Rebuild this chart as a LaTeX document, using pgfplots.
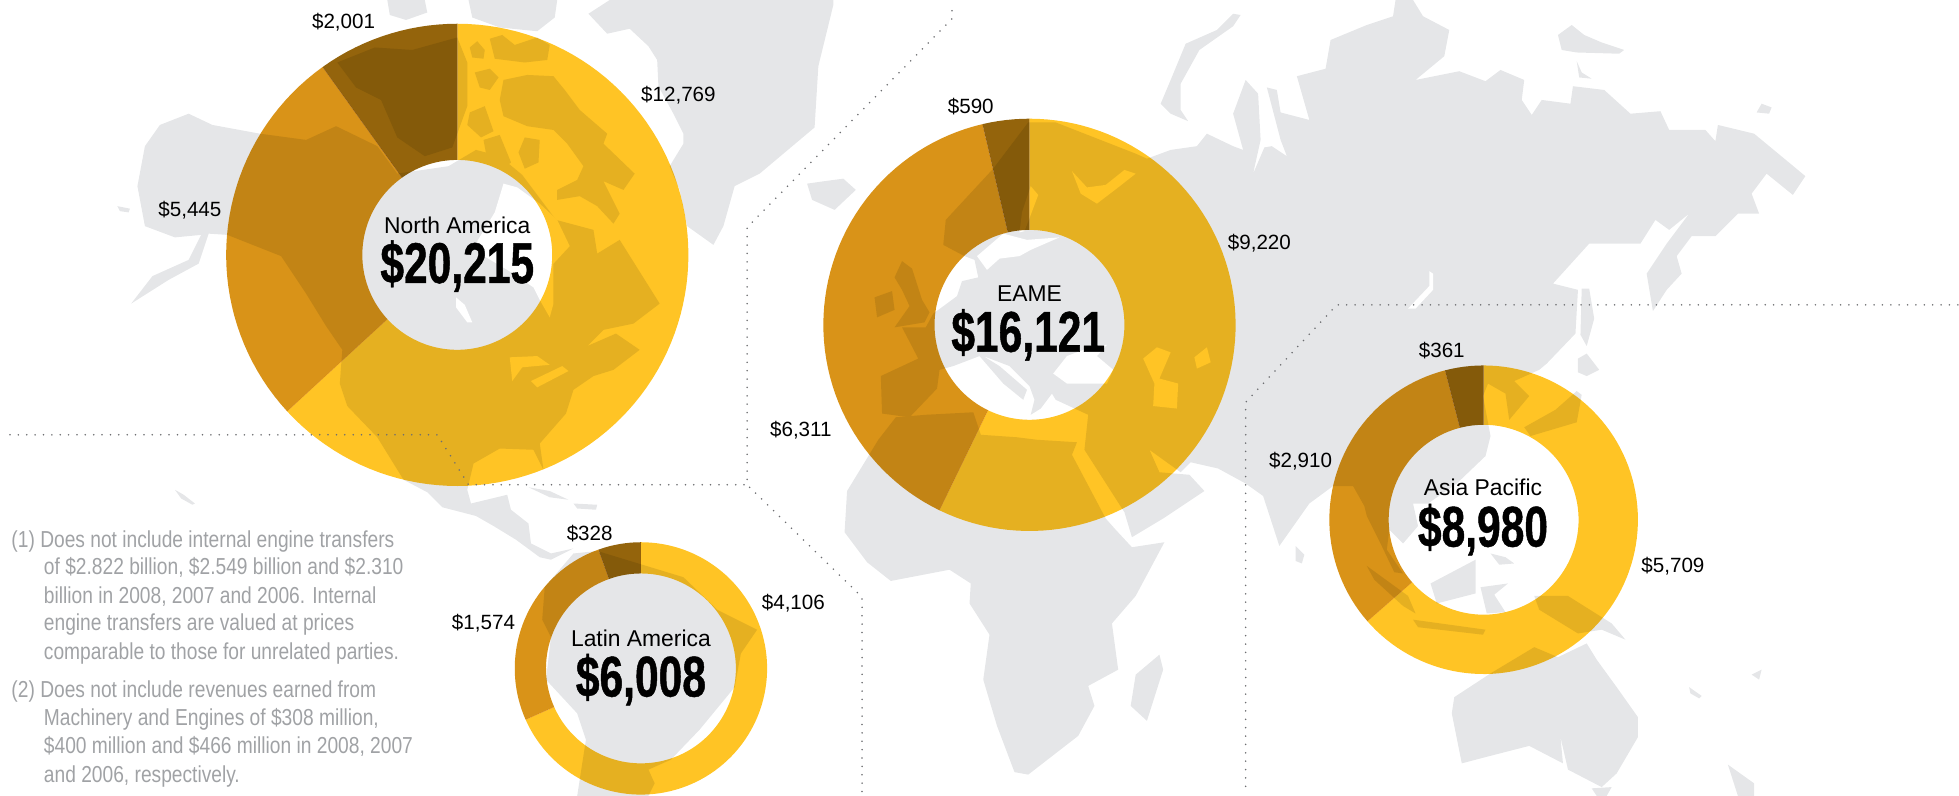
\documentclass[border=0pt]{standalone}
\usepackage{pgfplots}
\pgfplotsset{compat=1.18}
\usepackage{fontspec}
\setmainfont{Liberation Sans}
\newfontfamily\bigfont[FakeStretch=0.74,FakeBold=0.8]{Liberation Sans}
\newfontfamily\notefont[FakeStretch=0.83]{Liberation Sans}
\definecolor{mapgray}{HTML}{E5E6E8}
\definecolor{yel}{HTML}{FFC425}
\definecolor{ora}{HTML}{D99318}
\definecolor{drk}{HTML}{94640C}
\definecolor{dotc}{HTML}{6D6E71}
\definecolor{notec}{HTML}{A0A2A5}
\pgfplotsset{
  land/.style={fill=mapgray,draw=none,forget plot},
  sea/.style={fill=white,draw=none,forget plot},
  dots/.style={draw=dotc,line width=1.4pt,line cap=round,dash pattern=on 0pt off 6.7pt,forget plot},
}
\newcommand\ringslice[7]{%
  \pgfmathtruncatemacro\nsteps{max(2,ceil((#6-#5)/2.5))}%
  \gdef\plist{}%
  \foreach \i in {0,...,\nsteps}{%
    \pgfmathsetmacro\ang{#5+(#6-#5)*(\i/\nsteps)}%
    \pgfmathsetmacro\px{#1+#3*sin(\ang)}%
    \pgfmathsetmacro\py{#2-#3*cos(\ang)}%
    \xdef\plist{\plist (\px,\py)}%
  }%
  \foreach \i in {0,...,\nsteps}{%
    \pgfmathsetmacro\ang{#6-(#6-#5)*(\i/\nsteps)}%
    \pgfmathsetmacro\px{#1+#4*sin(\ang)}%
    \pgfmathsetmacro\py{#2-#4*cos(\ang)}%
    \xdef\plist{\plist (\px,\py)}%
  }%
  \edef\doit{\noexpand\addplot[fill=#7,draw=none,blend mode=multiply,forget plot] coordinates {\plist};}%
  \doit
}
\newcommand\donut[7]{%
  \pgfmathsetmacro\sumv{#5/100+#6/100+#7/100}%
  \pgfmathsetmacro\aone{(#5/100)/\sumv*360}%
  \pgfmathsetmacro\atwo{(#5/100+#6/100)/\sumv*360}%
  \edef\aoneX{\aone}\edef\atwoX{\atwo}%
  \ringslice{#1}{#2}{#3}{#4}{0}{\aoneX}{yel}%
  \ringslice{#1}{#2}{#3}{#4}{\aoneX}{\atwoX}{ora}%
  \ringslice{#1}{#2}{#3}{#4}{\atwoX}{360}{drk}%
}
\newcommand\val[3]{\node[text=black,font=\fontsize{16.5}{18}\selectfont,inner sep=0pt] at (axis cs:#1,#2) {#3};}
\newcommand\reg[3]{\node[text=black,font=\fontsize{18.3}{20}\selectfont,inner sep=0pt] at (axis cs:#1,#2) {#3};}
\newcommand\tot[3]{\node[text=black,font=\bigfont\bfseries\fontsize{46}{50}\selectfont,inner sep=0pt] at (axis cs:#1,#2) {#3};}
\newcommand\nt[3]{\node[text=notec,anchor=base west,font=\notefont\fontsize{18.5}{20}\selectfont,inner sep=0pt] at (axis cs:#1,#2) {#3};}
\begin{document}
\begin{tikzpicture}
\begin{axis}[
  width=1568pt,height=637pt,scale only axis,
  xmin=0,xmax=1568,ymin=0,ymax=637,y dir=reverse,
  hide axis,clip=false]
% page extent
\addplot[draw=none,forget plot] coordinates {(0,0)(1568,637)};
% ---- map: North America
\addplot[land] coordinates {(116,117)(128,100)(151,91)(170,100)(208,107)(245,112)(269,101)(302,117)(318,139)(359,133)(381,120)(400,125)(418,140)(445,176)(475,184)(478,203)(496,192)(528,243)(507,259)(483,264)(470,277)(493,267)(512,280)(491,296)(475,301)(459,312)(453,331)(432,355)(435,376)(427,360)(400,359)(379,371)(374,392)(377,403)(406,396)(409,408)(423,419)(425,435)(441,443)(459,439)(441,448)(432,446)(413,432)(395,421)(381,413)(354,406)(342,394)(323,384)(302,350)(278,325)(272,307)(274,280)(261,261)(245,235)(225,205)(182,188)(167,187)(159,211)(135,224)(105,243)(122,221)(151,208)(161,188)(140,190)(116,181)(110,149)};
\addplot[land] coordinates {(94,165)(104,167)(103,170)(96,169)};
\addplot[land] coordinates {(403,64)(422,60)(443,61)(452,72)(464,88)(486,107)(483,115)(508,139)(499,152)(483,145)(496,171)(491,179)(478,165)(464,157)(446,160)(446,152)(462,144)(467,133)(454,115)(443,104)(422,101)(403,93)(400,80)};
\addplot[land] coordinates {(376,38)(382,33)(388,40)(387,47)(378,46)};
\addplot[land] coordinates {(392,31)(402,28)(412,36)(430,30)(440,36)(438,48)(420,50)(396,47)};
\addplot[land] coordinates {(380,58)(392,55)(399,62)(392,72)(384,70)};
\addplot[land] coordinates {(376,90)(388,85)(395,105)(385,110)(374,100)};
\addplot[land] coordinates {(387,112)(400,108)(409,130)(402,136)(390,128)};
\addplot[land] coordinates {(420,110)(432,112)(431,130)(420,135)(415,122)};
\addplot[land] coordinates {(366,30)(374,50)(374,85)(362,118)(340,125)(318,110)(305,80)(285,70)(270,50)(300,38)(330,40)};
\addplot[land] coordinates {(375,0)(446,0)(444,14)(430,25)(400,22)(378,14)};
\addplot[land] coordinates {(310,0)(340,0)(342,10)(325,16)(312,12)};
% Greenland
\addplot[land] coordinates {(488,0)(471,11)(486,27)(504,23)(519,37)(526,48)(527,69)(539,91)(547,107)(547,115)(536,133)(544,152)(550,181)(571,196)(579,181)(588,149)(608,139)(652,102)(655,53)(667,4)(667,0)};
% Iceland
\addplot[land] coordinates {(646,147)(660,145)(675,143)(685,152)(668,168)(650,160)};
% Eurasia
\addplot[land] coordinates {(706,331)(705,301)(735,287)(722,262)(741,262)(747,251)(766,237)(770,225)(783,222)(780,208)(772,205)(755,196)(757,176)(795,135)(823,98)(845,98)(909,123)(918,127)(937,120)(958,117)(966,107)(987,117)(995,120)(987,91)(997,64)(1007,75)(1009,112)(1003,139)(1012,118)(1018,117)(1030,125)(1025,112)(1014,70)(1022,72)(1025,90)(1048,96)(1038,61)(1061,55)(1065,32)(1094,20)(1115,13)(1117,0)(1131,0)(1139,13)(1160,24)(1156,45)(1133,64)(1168,57)(1189,65)(1201,56)(1220,64)(1218,80)(1226,92)(1234,80)(1257,83)(1259,69)(1284,72)(1305,91)(1329,89)(1336,104)(1365,104)(1373,113)(1375,100)(1404,107)(1433,131)(1445,141)(1435,156)(1414,139)(1402,155)(1408,171)(1391,171)(1373,189)(1354,189)(1342,205)(1346,219)(1334,232)(1323,249)(1318,219)(1334,195)(1352,171)(1336,184)(1325,176)(1313,195)(1272,195)(1243,227)(1263,232)(1261,267)(1238,291)(1232,296)(1212,305)(1224,317)(1208,336)(1205,315)(1191,307)(1187,317)(1193,349)(1189,365)(1166,387)(1143,403)(1131,403)(1135,421)(1123,435)(1112,424)(1110,440)(1123,459)(1116,458)(1105,435)(1094,413)(1092,405)(1083,389)(1067,389)(1048,403)(1024,437)(1011,397)(997,387)(975,375)(953,370)(945,378)(920,360)(928,378)(952,380)(964,393)(931,415)(906,430)(900,410)(868,360)(871,332)(845,320)(842,315)(833,327)(825,332)(828,320)(824,309)(808,293)(787,285)(800,293)(822,312)(819,320)(803,307)(784,285)(763,293)(752,296)(750,311)(728,334)};
% British Isles
\addplot[land] coordinates {(722,209)(730,215)(738,240)(744,250)(740,258)(716,262)(728,245)(722,232)(716,222)};
\addplot[land] coordinates {(700,238)(714,233)(716,248)(702,254)};
% Novaya Zemlya and Arctic islands
\addplot[land] coordinates {(993,12)(987,21)(960,40)(945,67)(945,88)(951,97)(937,91)(929,83)(937,64)(949,35)(974,24)(987,11)};
\addplot[land] coordinates {(1247,28)(1258,20)(1268,28)(1282,34)(1300,40)(1296,43)(1262,42)(1250,40)};
\addplot[land] coordinates {(1262,49)(1266,58)(1274,63)(1264,62)};
\addplot[land] coordinates {(1406,90)(1410,83)(1418,86)(1416,91)};
\addplot[land] coordinates {(1266,231)(1272,231)(1276,255)(1270,277)(1265,268)};
\addplot[land] coordinates {(1263,287)(1270,283)(1280,296)(1270,301)(1263,298)};
% Japan
\addplot[land] coordinates {(1262,313)(1266,316)(1262,338)(1225,349)(1220,342)(1245,328)};
% Africa
\addplot[land] coordinates {(703,352)(717,334)(741,332)(779,330)(785,348)(814,350)(830,352)(862,354)(858,364)(885,415)(893,424)(906,438)(932,434)(909,477)(890,499)(895,536)(871,549)(876,565)(863,589)(823,620)(812,618)(798,581)(787,544)(792,508)(776,483)(777,467)(760,456)(713,465)(694,450)(676,426)(678,393)};
\addplot[land] coordinates {(928,524)(931,536)(918,577)(905,565)(909,540)};
% South America and Caribbean
\addplot[land] coordinates {(478,441)(547,462)(574,488)(606,504)(593,523)(588,550)(560,584)(537,608)(519,616)(524,627)(519,637)(462,637)(469,592)(462,571)(437,544)(441,510)(434,496)(436,470)(459,443)};
\addplot[land] coordinates {(423,390)(440,393)(455,400)(440,398)};
\addplot[land] coordinates {(459,403)(478,404)(477,408)(462,407)};
\addplot[land] coordinates {(140,392)(147,396)(156,403)(154,404)(145,399)};
% Sri Lanka, SE Asia, Oceania
\addplot[land] coordinates {(1037,437)(1044,444)(1042,451)(1037,449)};
\addplot[land] coordinates {(1094,453)(1127,477)(1133,491)(1123,485)(1100,464)};
\addplot[land] coordinates {(1145,467)(1181,448)(1181,475)(1150,483)};
\addplot[land] coordinates {(1185,470)(1207,467)(1196,476)(1205,490)(1190,491)};
\addplot[land] coordinates {(1193,443)(1205,446)(1212,451)(1200,452)};
\addplot[land] coordinates {(1131,496)(1189,504)(1187,508)(1135,502)};
\addplot[land] coordinates {(1228,477)(1255,477)(1290,499)(1301,512)(1282,504)(1263,507)(1232,488)};
\addplot[land] coordinates {(1164,558)(1193,539)(1228,518)(1247,526)(1270,515)(1278,528)(1294,550)(1311,574)(1311,590)(1294,619)(1282,630)(1255,616)(1249,590)(1251,611)(1224,597)(1189,606)(1170,611)(1162,571)};
\addplot[land] coordinates {(1274,631)(1290,630)(1286,637)(1278,637)};
\addplot[land] coordinates {(1383,612)(1404,627)(1404,637)(1391,637)};
\addplot[land] coordinates {(1352,550)(1362,557)(1360,559)(1353,555)};
\addplot[land] coordinates {(1402,540)(1410,536)(1408,544)};
% seas and lakes
\addplot[sea] coordinates {(382,193)(396,170)(403,147)(414,150)(432,163)(446,176)(456,197)(443,211)(443,243)(440,254)(432,240)(427,230)(406,216)(384,203)};
\addplot[sea] coordinates {(365,238)(372,244)(378,258)(374,258)(365,246)};
\addplot[sea] coordinates {(408,286)(430,285)(440,292)(418,294)(410,305)};
\addplot[sea] coordinates {(425,305)(450,293)(455,297)(430,310)};
\addplot[sea] coordinates {(803,187)(822,192)(848,190)(825,200)(816,205)(800,207)(790,216)(782,205)};
\addplot[sea] coordinates {(825,149)(831,156)(825,172)(820,185)(816,186)(818,170)};
\addplot[sea] coordinates {(858,137)(870,150)(885,148)(900,136)(909,139)(895,150)(878,163)(865,155)};
\addplot[sea] coordinates {(843,299)(854,285)(875,277)(886,276)(878,285)(891,296)(886,307)(854,307)};
\addplot[sea] coordinates {(915,287)(926,278)(937,282)(928,303)(943,307)(942,327)(923,325)(924,307)};
\addplot[sea] coordinates {(956,286)(966,278)(969,290)(958,295)};
\addplot[sea] coordinates {(1127,247)(1144,229)(1144,217)(1147,219)(1147,232)(1133,247)};
% ---- donuts
\donut{366}{204}{185}{76}{12769}{5445}{2001}
\donut{824}{260}{165}{76}{9220}{6311}{590}
\donut{513}{535}{101}{76}{4106}{1574}{328}
\donut{1187.5}{416}{123.5}{76}{5709}{2910}{361}
% ---- dotted separators
\addplot[dots] coordinates {(8,348)(350,348)(375,388)(598,388)(598,182)(762,15)(762,2)};
\addplot[dots] coordinates {(600,390)(690,478)(690,636)};
\addplot[dots] coordinates {(1567,244)(1070,244)(997,322)(997,636)};
% ---- labels
\val{275}{18}{\$2,001}
\val{543}{76}{\$12,769}
\val{152}{168}{\$5,445}
\reg{366}{180}{North America}
\tot{366}{213}{\$20,215}
\val{777}{85}{\$590}
\val{1008}{195}{\$9,220}
\val{641}{344}{\$6,311}
\reg{824}{235}{EAME}
\tot{823}{268}{\$16,121}
\val{472}{427}{\$328}
\val{635}{483}{\$4,106}
\val{387}{499}{\$1,574}
\reg{513}{511}{Latin America}
\tot{513}{544}{\$6,008}
\val{1154}{281}{\$361}
\val{1041}{369}{\$2,910}
\val{1339}{453}{\$5,709}
\reg{1187}{390}{Asia Pacific}
\tot{1187}{424}{\$8,980}
% ---- notes
\nt{9}{438}{(1) Does not include internal engine transfers}
\nt{35}{460}{of \$2.822 billion, \$2.549 billion and \$2.310}
\nt{35}{483}{billion in 2008, 2007 and 2006. Internal}
\nt{35}{505}{engine transfers are valued at prices}
\nt{35}{528}{comparable to those for unrelated parties.}
\nt{9}{558}{(2) Does not include revenues earned from}
\nt{35}{581}{Machinery and Engines of \$308 million,}
\nt{35}{603}{\$400 million and \$466 million in 2008, 2007}
\nt{35}{626}{and 2006, respectively.}
\end{axis}
\end{tikzpicture}
\end{document}
